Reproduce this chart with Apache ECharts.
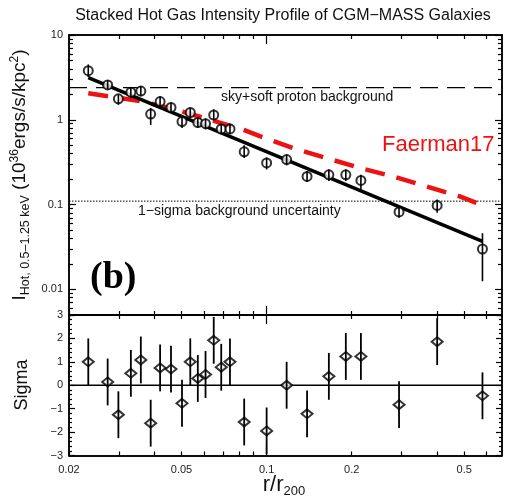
<!DOCTYPE html>
<html><head><meta charset="utf-8">
<script src="https://cdn.jsdelivr.net/npm/echarts@6/dist/echarts.min.js"></script>
<style>html,body{margin:0;padding:0;background:#fff}#c{width:506px;height:503px}</style>
</head><body><div id="c"></div>
<script>
// ---------------- data ----------------
const rVals = [0.0234,0.0274,0.0299,0.0331,0.0359,0.0389,0.0420,0.0459,0.0502,0.0537,0.0571,0.0608,0.0650,0.0691,0.0742,0.0833,0.100,0.1177,0.139,0.166,0.1906,0.2155,0.294,0.401,0.580];
const intensity = [3.80,2.58,1.77,2.12,2.18,1.17,1.64,1.40,0.955,1.22,0.93,0.90,1.14,0.78,0.78,0.42,0.31,0.34,0.215,0.225,0.225,0.193,0.082,0.098,0.030];
const intLow  = [3.2,2.28,1.5,1.8,1.9,0.87,1.45,1.22,0.8,1.05,0.8,0.77,1.0,0.68,0.68,0.355,0.26,0.29,0.185,0.19,0.19,0.15,0.07,0.08,0.0125];
const intHigh = [4.5,2.95,2.0,2.4,2.5,1.38,1.9,1.6,1.1,1.4,1.08,1.04,1.33,0.9,0.9,0.5,0.36,0.39,0.25,0.26,0.26,0.225,0.095,0.115,0.046];
const sigma    = [1.0,0.14,-1.26,0.51,1.08,-1.62,0.74,0.69,-0.77,1.0,0.29,0.46,1.92,0.77,1.0,-1.57,-1.95,0.0,-1.22,0.38,1.23,1.23,-0.83,1.86,-0.45];
const sigmaErr = [1,1,1,1,1,1,1,1,1,1,1,1,1,1,1,1,1,1,1,1,1,1,1,1,1];
const fitR = [0.0234, 0.58];
const fitI = [3.15, 0.037];
const faermanR = [0.0234,0.0279,0.0366,0.0481,0.0631,0.0827,0.1027,0.124,0.163,0.214,0.280,0.367,0.482,0.552];
const faermanI = [2.06,1.88,1.64,1.31,1.0,0.763,0.58,0.465,0.354,0.270,0.215,0.164,0.125,0.105];
const bgLevel = 2.4;
const bgUncertainty = 0.11;
const xRange = [0.02, 0.68];
const yTopRange = [0.005, 10];
const ySigRange = [-3, 3];
const xLabelVals = [0.02, 0.05, 0.1, 0.2, 0.5];
const xMajorTicks = [0.1];
const xMinorTicks = [0.02,0.03,0.04,0.05,0.06,0.07,0.08,0.09,0.2,0.3,0.4,0.5,0.6];
const yTopLabelVals = [0.01, 0.1, 1, 10];
const ySigLabelVals = [-3,-2,-1,0,1,2,3];

// ---------------- build ----------------
const L = Math.log10;
const FONT = 'Liberation Sans, Arial, sans-serif';
const xMin = L(xRange[0]), xMax = L(xRange[1]);
const yTMin = L(yTopRange[0]), yTMax = L(yTopRange[1]);
const yTopMinor = [];
for (let d = -3; d <= 0; d++) for (let k = 2; k <= 9; k++) { const v = k * Math.pow(10, d); if (v >= yTopRange[0] && v <= yTopRange[1]) yTopMinor.push(L(v)); }
const ySigMinor = [];
for (let v = -30; v <= 30; v += 2) if (v % 10 !== 0) ySigMinor.push(v / 10);

function fmtLog(v) { return String(parseFloat(Math.pow(10, v).toPrecision(3))); }
function fmtSig(v) { return v < 0 ? '\u2212' + Math.abs(v) : String(v); }

const xAxes = [], yAxes = [];
function addAxis(list, grid, pos, min, max, ticks, len, labels, fmt) {
  list.push({
    type: 'value', gridIndex: grid, position: pos, min: min, max: max,
    axisLine: { show: true, onZero: false, lineStyle: { color: '#000', width: 1.5 } },
    axisTick: { show: true, inside: true, length: len, customValues: ticks, lineStyle: { color: '#000', width: 1.2 } },
    axisLabel: labels ? { show: true, customValues: labels, formatter: fmt, fontFamily: FONT, fontSize: 11, color: '#222', margin: pos === 'left' ? 6 : 9 } : { show: false },
    splitLine: { show: false }, minorTick: { show: false }
  });
  return list.length - 1;
}
const xMajL = xMajorTicks.map(L), xMinL = xMinorTicks.map(L);
// top panel (grid 0)
const xTop = addAxis(xAxes, 0, 'bottom', xMin, xMax, xMajL, 9, null);
addAxis(xAxes, 0, 'bottom', xMin, xMax, xMinL, 4, null);
addAxis(xAxes, 0, 'top', xMin, xMax, xMajL, 9, null);
addAxis(xAxes, 0, 'top', xMin, xMax, xMinL, 4, null);
const yTop = addAxis(yAxes, 0, 'left', yTMin, yTMax, yTopLabelVals.map(L), 7, yTopLabelVals.map(L), fmtLog);
addAxis(yAxes, 0, 'left', yTMin, yTMax, yTopMinor, 4, null);
addAxis(yAxes, 0, 'right', yTMin, yTMax, yTopLabelVals.map(L), 7, null);
addAxis(yAxes, 0, 'right', yTMin, yTMax, yTopMinor, 4, null);
// bottom panel (grid 1)
const xBot = addAxis(xAxes, 1, 'bottom', xMin, xMax, xMajL, 9, xLabelVals.map(L), fmtLog);
addAxis(xAxes, 1, 'bottom', xMin, xMax, xMinL, 4, null);
addAxis(xAxes, 1, 'top', xMin, xMax, xMajL, 9, null);
addAxis(xAxes, 1, 'top', xMin, xMax, xMinL, 4, null);
const ySig = addAxis(yAxes, 1, 'left', ySigRange[0], ySigRange[1], ySigLabelVals, 6, ySigLabelVals, fmtSig);
addAxis(yAxes, 1, 'left', ySigRange[0], ySigRange[1], ySigMinor, 3, null);
addAxis(yAxes, 1, 'right', ySigRange[0], ySigRange[1], ySigLabelVals, 6, null);
addAxis(yAxes, 1, 'right', ySigRange[0], ySigRange[1], ySigMinor, 3, null);

function errBar(width) {
  return function (params, api) {
    const x = api.value(0);
    const p1 = api.coord([x, api.value(1)]);
    const p2 = api.coord([x, api.value(2)]);
    return { type: 'line', shape: { x1: p1[0], y1: p1[1], x2: p2[0], y2: p2[1] }, style: { stroke: '#000', lineWidth: width } };
  };
}

const series = [
  { type: 'line', xAxisIndex: xTop, yAxisIndex: yTop, data: [[xMin, L(bgLevel)], [xMax, L(bgLevel)]], symbol: 'none',
    lineStyle: { color: '#000', width: 1.2, type: [18, 9] }, z: 1, silent: true },
  { type: 'line', xAxisIndex: xTop, yAxisIndex: yTop, data: [[xMin, L(bgUncertainty)], [xMax, L(bgUncertainty)]], symbol: 'none',
    lineStyle: { color: '#000', width: 1, type: [1.5, 1.5] }, z: 1, silent: true },
  { type: 'line', xAxisIndex: xTop, yAxisIndex: yTop, data: faermanR.map((r, i) => [L(r), L(faermanI[i])]), symbol: 'none',
    lineStyle: { color: '#ee1111', width: 4.5, type: [20, 12] }, z: 2, silent: true },
  { type: 'line', xAxisIndex: xTop, yAxisIndex: yTop, data: fitR.map((r, i) => [L(r), L(fitI[i])]), symbol: 'none',
    lineStyle: { color: '#000', width: 3.5 }, z: 3, silent: true },
  { type: 'scatter', xAxisIndex: xTop, yAxisIndex: yTop, data: rVals.map((r, i) => [L(r), L(intensity[i])]),
    symbol: 'emptyCircle', symbolSize: 9, itemStyle: { color: '#000', borderColor: '#000', borderWidth: 1.5 }, z: 4, silent: true },
  { type: 'custom', xAxisIndex: xTop, yAxisIndex: yTop, data: rVals.map((r, i) => [L(r), L(intLow[i]), L(intHigh[i])]),
    encode: { x: 0, y: [1, 2] }, renderItem: errBar(1.6), z: 5, silent: true },
  // lower panel
  { type: 'line', xAxisIndex: xBot, yAxisIndex: ySig, data: [[xMin, 0], [xMax, 0]], symbol: 'none',
    lineStyle: { color: '#000', width: 1.5 }, z: 1, silent: true },
  { type: 'scatter', xAxisIndex: xBot, yAxisIndex: ySig, data: rVals.map((r, i) => [L(r), sigma[i]]),
    symbol: 'emptyDiamond', symbolSize: [11, 9], itemStyle: { color: '#000', borderColor: '#000', borderWidth: 1.6 }, z: 4, silent: true },
  { type: 'custom', xAxisIndex: xBot, yAxisIndex: ySig, data: rVals.map((r, i) => [L(r), sigma[i] - sigmaErr[i], sigma[i] + sigmaErr[i]]),
    encode: { x: 0, y: [1, 2] }, renderItem: errBar(1.8), z: 5, silent: true }
];

const graphic = [
  { type: 'text', x: 283, y: 16, style: { text: 'Stacked Hot Gas Intensity Profile of CGM\u2212MASS Galaxies', font: '16px ' + FONT, fill: '#111', align: 'center', verticalAlign: 'middle' } },
  { type: 'text', x: 221, y: 97, style: { text: 'sky+soft proton background', font: '14px ' + FONT, fill: '#111', align: 'left', verticalAlign: 'middle' } },
  { type: 'text', x: 138, y: 211, style: { text: '1\u2212sigma background uncertainty', font: '14px ' + FONT, fill: '#111', align: 'left', verticalAlign: 'middle' } },
  { type: 'text', x: 382, y: 145, style: { text: 'Faerman17', font: '22px ' + FONT, fill: '#ee1111', align: 'left', verticalAlign: 'middle' } },
  { type: 'text', x: 90, y: 278, style: { text: '(b)', font: 'bold 38px Liberation Serif, Times New Roman, serif', fill: '#000', align: 'left', verticalAlign: 'middle' } },
  { type: 'text', x: 20, y: 175, rotation: Math.PI / 2, style: {
      text: '{m|I}{s|Hot, 0.5\u20131.25 keV}{m| (10}{p|36}{m|ergs/s/kpc}{p|2}{m|)}',
      align: 'center', verticalAlign: 'middle', fill: '#111',
      rich: {
        m: { fontSize: 19, fontFamily: FONT, fill: '#111' },
        s: { fontSize: 12.5, fontFamily: FONT, fill: '#111', padding: [11, 0, 0, 0] },
        p: { fontSize: 12, fontFamily: FONT, fill: '#111', padding: [0, 0, 10, 0] }
      } } },
  { type: 'text', x: 22, y: 385, rotation: Math.PI / 2, style: { text: 'Sigma', font: '18px ' + FONT, fill: '#111', align: 'center', verticalAlign: 'middle' } },
  { type: 'text', x: 284, y: 485, style: {
      text: '{m|r/r}{s|200}', align: 'center', verticalAlign: 'middle', fill: '#111',
      rich: {
        m: { fontSize: 22, fontFamily: FONT, fill: '#111' },
        s: { fontSize: 13, fontFamily: FONT, fill: '#111', padding: [12, 0, 0, 0] }
      } } }
];

const chart = echarts.init(document.getElementById('c'), null, { renderer: 'canvas' });
chart.setOption({
  animation: false,
  backgroundColor: '#fff',
  grid: [
    { left: 69, top: 35, width: 433, height: 280, outerBoundsMode: 'none', containLabel: false },
    { left: 69, top: 315, width: 433, height: 140.5, outerBoundsMode: 'none', containLabel: false }
  ],
  xAxis: xAxes,
  yAxis: yAxes,
  series: series,
  graphic: graphic
});
</script>
</body></html>
